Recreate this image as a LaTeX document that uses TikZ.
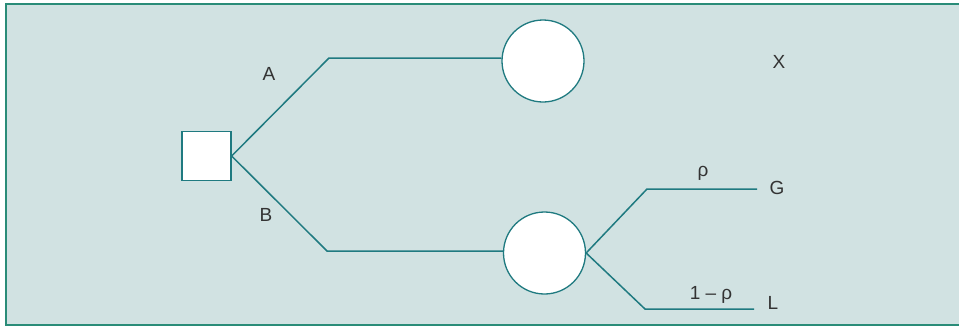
\documentclass[tikz,border=0pt]{standalone}
\usepackage{fontspec}
\setmainfont{Liberation Sans}
\definecolor{bgc}{HTML}{D1E2E2}
\definecolor{framec}{HTML}{2A8C78}
\definecolor{linec}{HTML}{1F7A80}
\definecolor{txtc}{HTML}{333333}
\begin{document}
\begin{tikzpicture}[x=1pt,y=-1pt,
  branch/.style={draw=linec,line width=1.5pt},
  decision/.style={draw=linec,fill=white,line width=1.3pt,minimum size=49pt,inner sep=0pt,shape=rectangle},
  chance/.style={draw=linec,fill=white,line width=1.3pt,circle,minimum size=82pt,inner sep=0pt},
  lbl/.style={text=txtc,font=\fontsize{19}{22}\selectfont,inner sep=0pt}]
\useasboundingbox (0,0) rectangle (959,327);
\fill[bgc] (6,4) rectangle (970,325);
\draw[framec,line width=2pt] (970,4) -- (6,4) -- (6,325) -- (970,325);
% nodes
\node[decision] (d) at (206.5,156) {};
\node[chance] (c1) at (543,61) {};
\node[chance] (c2) at (544.5,253) {};
\coordinate (a1) at (329,58);
\coordinate (b1) at (327,251);
\coordinate (g1) at (647,189);
\coordinate (g2) at (757,189);
\coordinate (l1) at (645,309);
\coordinate (l2) at (754,309);
% connectors
\draw[branch] (d.east) -- (a1) -- (c1.west |- a1);
\draw[branch] (d.east) -- (b1) -- (c2.west |- b1);
\draw[branch] (c2.east) -- (g1) -- (g2);
\draw[branch] (c2.east) -- (l1) -- (l2);
% labels
\node[lbl] (la) at (269,74) {A};
\node[lbl] (lb) at (266,215) {B};
\node[lbl] (lx) at (779,62) {X};
\node[lbl] (lr) at (703,173) {ρ};
\node[lbl] (lg) at (777,188) {G};
\node[lbl] (lq) at (711,295) {1 – ρ};
\node[lbl] (ll) at (773,303) {L};
\end{tikzpicture}
\end{document}
